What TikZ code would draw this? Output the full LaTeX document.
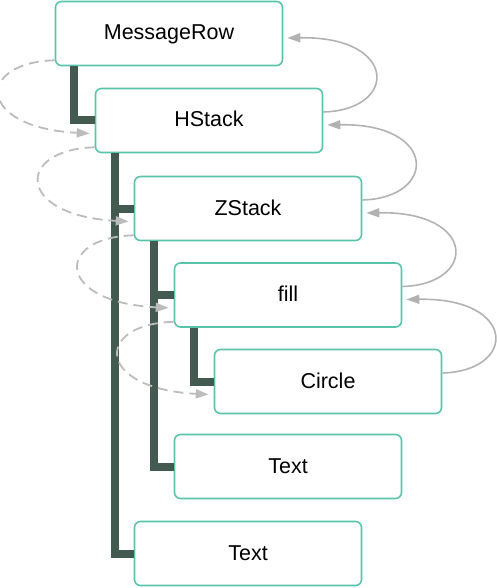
\documentclass[tikz,border=0pt]{standalone}
\usepackage{fontspec}
\setmainfont{Liberation Sans}
\usetikzlibrary{arrows.meta,calc}
\definecolor{viewteal}{RGB}{88,197,170}
\definecolor{treegreen}{RGB}{67,90,81}
\definecolor{flowgray}{RGB}{178,178,178}
\definecolor{dashgray}{RGB}{188,188,188}

\begin{document}
\begin{tikzpicture}[x=1pt, y=-1pt,
  view/.style={draw=viewteal, line width=1.6pt, rounded corners=6pt, fill=white,
    minimum width=227pt, minimum height=64pt, inner sep=0pt,
    font=\fontsize{21.5}{24}\selectfont, text height=16pt, text depth=3pt},
  branch/.style={treegreen, line width=8pt},
  goesdown/.style={dashgray, line width=1.8pt, dash pattern=on 10pt off 6pt,
    -{Triangle[length=13pt,width=9pt]}},
  goesup/.style={flowgray, line width=1.6pt, -{Triangle[length=13pt,width=9pt]}}]
\useasboundingbox (0,0) rectangle (496,588);

% Views
\node[view] (msg)    at (169,33.5)  {MessageRow};
\node[view] (hstack) at (209,120.5) {HStack};
\node[view] (zstack) at (248,208.5) {ZStack};
\node[view] (fillv)  at (288,295)   {fill};
\node[view] (circ)   at (328,381.5) {Circle};
\node[view] (txtA)   at (288,466.5) {Text};
\node[view] (txtB)   at (248,553.5) {Text};

% Tree branches
\draw[branch] ([xshift=19pt]msg.south west) |- (hstack.west);
\draw[branch] ([xshift=20pt]hstack.south west) |- (zstack.west)
  ([xshift=20pt]hstack.south west) |- (txtB.west);
\draw[branch] ([xshift=20pt]zstack.south west) |- (fillv.west)
  ([xshift=20pt]zstack.south west) |- (txtA.west);
\draw[branch] ([xshift=20pt]fillv.south west) |- (circ.west);

% Proposals down, sizes back up
\foreach \parent/\child in {msg/hstack, hstack/zstack, zstack/fillv, fillv/circ} {
  \draw[goesdown] ($(\parent.south west)+(0,-6)$)
    .. controls ($(\parent.south west)+(-79,-4)$) and ($(\child.west)+(-119,7)$)
    .. ($(\child.west)+(-5,13)$);
  \draw[goesup] ($(\child.east)+(0,-8.5)$)
    .. controls ($(\child.east)+(75,-10.5)$) and ($(\parent.east)+(115,2.5)$)
    .. ($(\parent.east)+(4,4.5)$);
}
\end{tikzpicture}
\end{document}
